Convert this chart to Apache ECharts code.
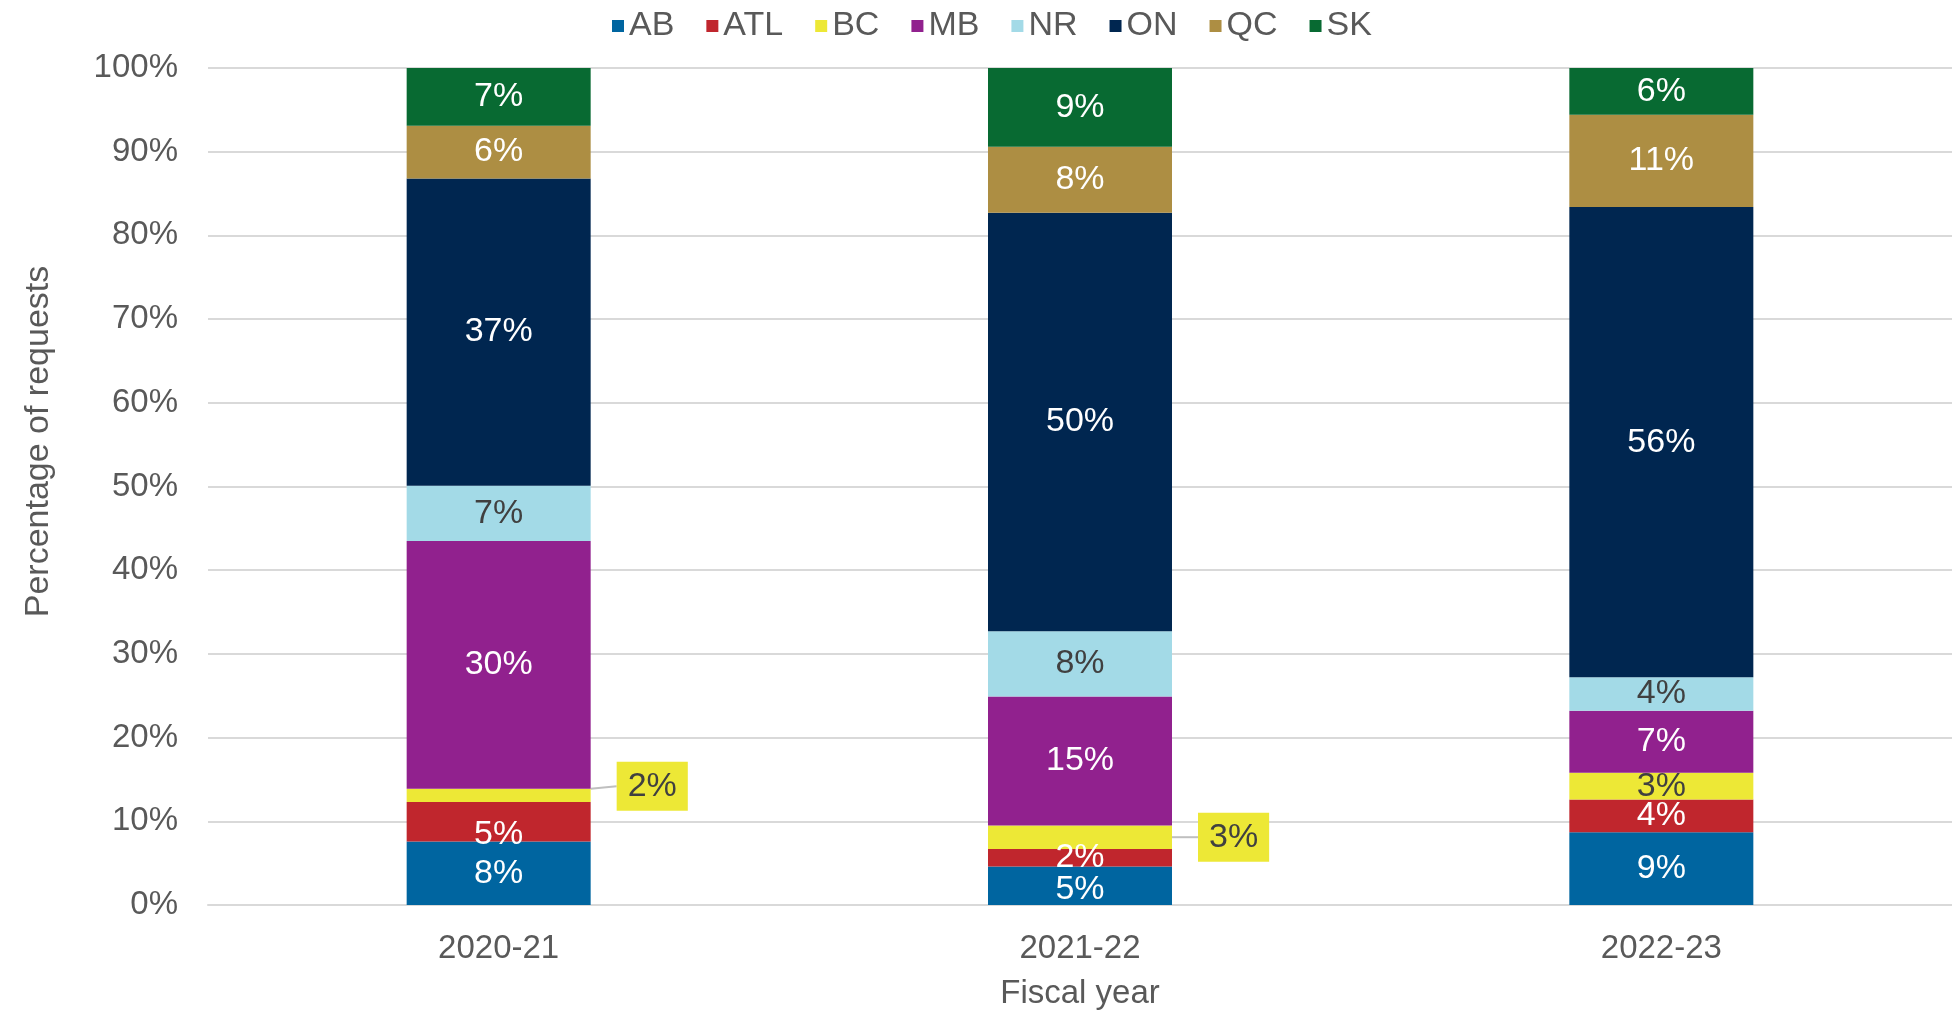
<!DOCTYPE html>
<html>
<head>
<meta charset="utf-8">
<title>Requests by region and fiscal year</title>
<script src="https://cdn.jsdelivr.net/npm/echarts@6/dist/echarts.min.js"></script>
<style>
  html, body { margin: 0; padding: 0; background: #ffffff; }
  #chart { width: 1952px; height: 1015px; }
</style>
</head>
<body>
<div id="chart"></div>
<script>
// Share of requests (%) per region, by fiscal year
const categories = ['2020-21', '2021-22', '2022-23'];
const regions = ['AB', 'ATL', 'BC', 'MB', 'NR', 'ON', 'QC', 'SK'];
const ab  = [7.6, 4.6, 8.7];
const atl = [4.7, 2.1, 3.9];
const bc  = [1.6, 2.8, 3.2];
const mb  = [29.6, 15.4, 7.4];
const nr  = [6.6, 7.8, 4.0];
const on  = [36.7, 50.0, 56.2];
const qc  = [6.3, 7.9, 11.0];
const sk  = [6.9, 9.4, 5.6];
const yTicks = [0, 10, 20, 30, 40, 50, 60, 70, 80, 90, 100];

const values = [ab, atl, bc, mb, nr, on, qc, sk];
const colors = ['#0065A0', '#C0262D', '#EDE836', '#91218E', '#A3DAE7', '#002650', '#AD8E43', '#086A32'];
const darkText = { BC: true, NR: true };
// BC slices in the first two years are too thin for an inside label
const calloutIdx = [0, 1];
const calloutDy = [-9, 0];
// inside labels that sit a little off-centre
const labelNudge = { 'ATL:0': [0, 13], 'AB:1': [0, 4] };

const FONT = '"Liberation Sans", Arial, sans-serif';
const chart = echarts.init(document.getElementById('chart'), null, { renderer: 'canvas' });

const series = regions.map((name, i) => {
  const s = {
    name: name,
    type: 'bar',
    stack: 'total',
    barWidth: 184,
    itemStyle: { color: colors[i] },
    label: {
      show: true,
      position: 'inside',
      fontFamily: FONT,
      fontSize: 34,
      color: darkText[name] ? '#404040' : '#ffffff',
      formatter: p => Math.round(p.value) + '%'
    },
    emphasis: { disabled: true },
    data: values[i].map((v, j) => {
      if (name === 'BC' && calloutIdx.indexOf(j) >= 0) {
        return {
          value: v,
          label: {
            backgroundColor: '#EDE836',
            padding: [8, 11, 7, 11],
            color: '#404040'
          }
        };
      }
      const nudge = labelNudge[name + ':' + j];
      if (nudge) return { value: v, label: { offset: nudge } };
      return v;
    })
  };
  if (name === 'BC') {
    s.labelLine = { show: true, lineStyle: { color: '#bfbfbf', width: 2 } };
    s.labelLayout = function (params) {
      const k = calloutIdx.indexOf(params.dataIndex);
      if (k < 0) return {};
      const r = params.rect;
      return {
        x: r.x + r.width + 26,
        y: r.y + r.height / 2 + calloutDy[k],
        align: 'left',
        verticalAlign: 'middle'
      };
    };
  }
  return s;
});

chart.setOption({
  backgroundColor: '#ffffff',
  animation: false,
  legend: {
    data: regions,
    top: 4,
    left: 607,
    itemWidth: 12,
    itemHeight: 12,
    itemGap: 32,
    icon: 'rect',
    textStyle: { fontFamily: FONT, fontSize: 34, color: '#595959' }
  },
  grid: { left: 208, width: 1750, top: 68, bottom: 106 },
  xAxis: {
    type: 'category',
    data: categories,
    name: 'Fiscal year',
    nameLocation: 'middle',
    nameGap: 72,
    nameTextStyle: { fontFamily: FONT, fontSize: 33, color: '#595959' },
    axisLine: { lineStyle: { color: '#d9d9d9', width: 2 } },
    axisTick: { show: false },
    axisLabel: { fontFamily: FONT, fontSize: 33, color: '#595959', margin: 27 }
  },
  yAxis: {
    type: 'value',
    min: yTicks[0],
    max: yTicks[yTicks.length - 1],
    interval: yTicks[1] - yTicks[0],
    name: 'Percentage of requests',
    nameLocation: 'middle',
    nameGap: 152,
    nameTextStyle: { fontFamily: FONT, fontSize: 34, color: '#595959', padding: [0, 0, 0, 90] },
    axisLine: { show: false },
    axisTick: { show: false },
    axisLabel: { fontFamily: FONT, fontSize: 33, color: '#595959', margin: 30, formatter: '{value}%' },
    splitLine: { lineStyle: { color: '#d9d9d9', width: 2 } }
  },
  series: series
});
</script>
</body>
</html>
